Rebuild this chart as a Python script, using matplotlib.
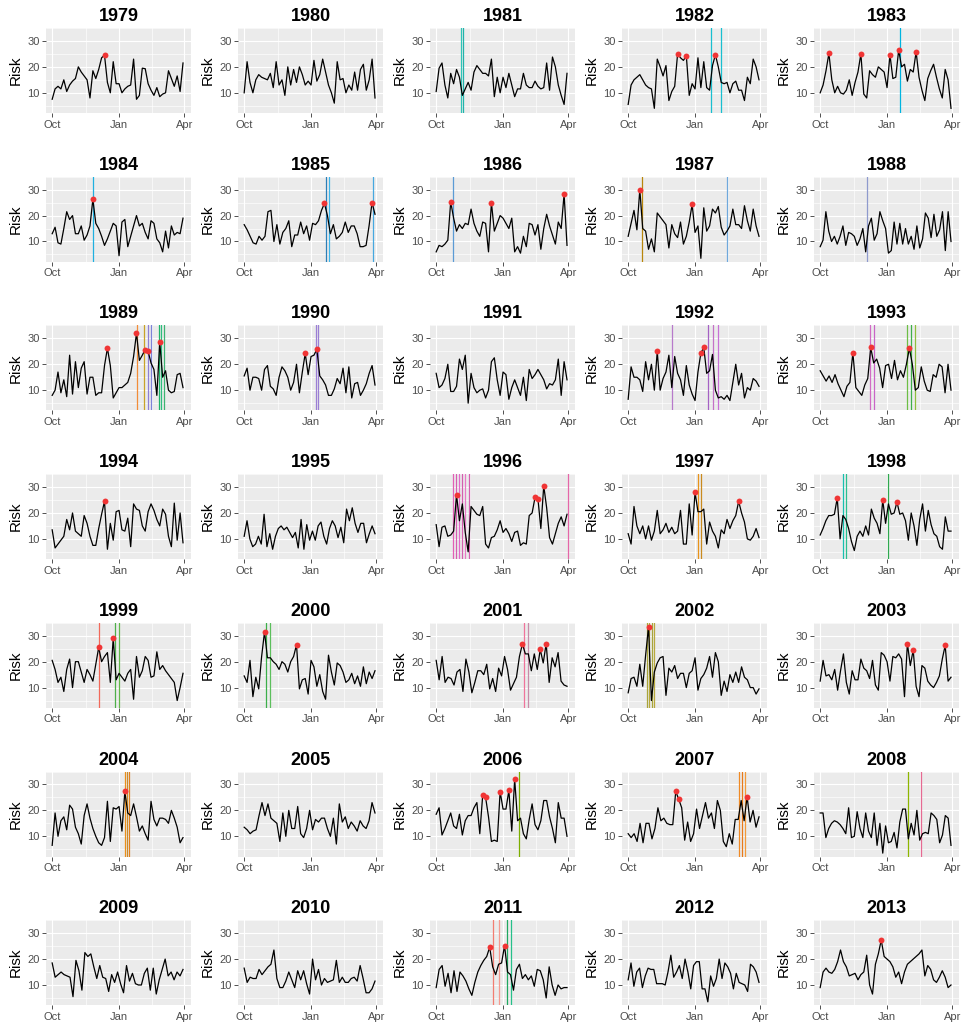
import numpy as np
import matplotlib
matplotlib.use("Agg")
import matplotlib.pyplot as plt

plt.rcParams['font.family'] = ['Liberation Sans', 'DejaVu Sans']

# risk values every ~4 days, Oct -> Apr, one list per season
r1979 = [7.5, 11.5, 12.5, 11.5, 15, 10.5, 13, 14.5, 15.5, 20, 18, 16.5, 15, 8, 18.5, 15.5, 19, 23.5, 24.5, 14, 10, 22, 13.5, 13.5, 10, 11.5, 12.5, 13, 23, 7.5, 9, 19.5, 19.3, 13.5, 11, 9, 12, 8.5, 9.5, 10, 18.5, 15.5, 12.5, 16.5, 10.5, 21.5]
r1980 = [10, 22, 14, 10, 15, 17, 16, 15.5, 15, 17.5, 12, 22, 13, 15, 9, 20, 13, 19, 14, 20, 17, 13, 14.5, 13, 22.5, 14.5, 17, 23, 18, 13, 10, 6, 22, 15, 15.5, 10, 13, 11, 18, 11, 19, 21, 11, 15, 23, 8]
r1981 = [10.5, 19.5, 21.5, 13, 8, 17.5, 13.5, 19, 16, 9, 11.5, 14, 11, 18, 20.5, 19, 17.5, 17.5, 16.5, 23, 8.5, 16, 10, 16, 12, 17.5, 13, 8.5, 11.5, 11.5, 17.5, 13, 12, 12, 14.5, 12.5, 11.5, 12, 21.5, 11, 23.8, 20, 13, 9, 5.5, 17.5]
r1982 = [5.5, 13, 15, 16, 17, 15, 13, 12, 11.5, 4, 23, 20, 16.5, 20.5, 7, 10.5, 12.5, 25, 23.5, 22.5, 24.3, 9, 13.5, 11.5, 23.5, 12, 22, 12, 11, 20.5, 24.7, 20, 14, 13.5, 14, 10, 13.5, 14.5, 11, 11, 7, 16, 13.5, 23, 20, 15]
r1983 = [10, 13, 18.5, 25.2, 15, 10, 12.5, 10, 9.5, 11, 15, 9, 14, 18, 25, 9.5, 8, 18.5, 17, 16, 20, 19, 18, 12, 24.7, 15.5, 16, 26.5, 20, 21, 14.5, 19, 18, 25.8, 16, 11, 7, 15.5, 18.5, 21, 16, 11.5, 8, 19, 15, 4]
r1984 = [13, 15.5, 9.5, 9, 15, 21.5, 18.5, 20, 13, 13, 16, 10.5, 12.5, 16, 26.3, 17, 15, 12, 8.5, 11, 14, 17, 16, 4.5, 17.5, 18.5, 8, 12, 16, 20, 16, 17, 13.5, 11, 18, 17, 11, 9.5, 6, 14, 7.5, 16, 12.5, 13.5, 13, 19]
r1985 = [16.5, 14.5, 12, 9.5, 9, 12, 10.5, 12, 21.5, 22, 10, 16.5, 9, 13.5, 15, 18, 8, 12.5, 12.5, 17.5, 13, 16, 10.5, 17, 16.5, 18, 22, 24.7, 20, 13, 16.5, 11, 12, 13.5, 17.5, 13.5, 16, 16, 13, 8, 8, 8.5, 16, 25, 20.5]
r1986 = [6, 8.5, 8, 9, 10.5, 25.3, 19, 14, 16.5, 15, 17, 16.5, 22.5, 17, 14, 12, 17.5, 17, 6, 25, 14, 17, 20, 19, 17, 15, 19, 6, 8, 5.5, 12, 8, 17, 16.5, 12.5, 16.5, 7, 15, 20.5, 16, 12.5, 9, 17.5, 15, 28.3, 8.5]
r1987 = [12, 17, 22, 14.5, 30, 15, 14, 7, 11, 6, 21, 19.5, 18, 16.5, 7.5, 16.5, 13, 11.5, 17.5, 9, 12, 17.5, 24.3, 13.5, 16, 3.5, 23, 14, 16, 22.5, 21, 23.5, 15.5, 12.5, 14, 16, 22.5, 16.5, 16.5, 15, 23.8, 18, 14, 22.5, 16, 12]
r1988 = [8, 10.5, 21.5, 14, 10, 12, 9, 12, 16, 8.5, 13.5, 13, 12, 8.5, 11, 15, 6, 16, 19, 10.5, 13, 21.5, 18, 15, 5.5, 6.5, 17.5, 9, 17, 9, 15, 9, 12, 7, 16, 7.5, 11, 21, 19, 11.5, 20.5, 12, 14.5, 21.5, 6.5, 21.5, 10]
r1989 = [8, 10, 17, 9, 14, 7.5, 23.5, 8.5, 21, 11, 18.5, 21, 8.5, 15, 15, 8, 9, 9, 19.5, 26.2, 19.5, 7, 9, 11, 11, 12, 13, 16.5, 23, 32, 21.5, 23.5, 25.7, 25, 20.5, 18, 8, 28.5, 15, 17.5, 10, 9, 9.5, 16, 16.5, 11]
r1990 = [15.5, 18.5, 10, 15, 15, 14.5, 10, 18, 19.5, 11.5, 10.5, 8, 15, 19, 17.5, 15, 10, 13, 20, 9, 17, 24.2, 16, 23, 23.5, 25.8, 15.5, 14, 12, 8, 8, 10.5, 14.5, 12.5, 18.5, 9, 19, 7, 12.5, 13, 8, 10, 12.5, 16.5, 19.5, 12]
r1991 = [16.5, 11, 12, 14.5, 20, 9.5, 9.5, 11.5, 22, 18, 23.5, 5, 16.5, 11, 9, 10, 10.5, 7, 10, 21, 22.5, 14, 8, 17, 16, 6.5, 11, 14, 11, 8, 15, 6, 18, 14.5, 16, 18, 16, 14, 10.5, 12.5, 12, 14, 22, 8, 21, 14]
r1992 = [6.5, 19, 15, 15, 14, 9.5, 21, 14, 20, 10, 25, 10, 14.5, 17, 23.5, 11, 23, 16.5, 14, 8, 19.5, 12, 8.5, 6, 17, 24.3, 26.5, 16.5, 17.5, 23.8, 10, 7, 7.5, 6.5, 8, 6, 13, 20, 12, 16.5, 7, 11, 10, 14.5, 13.5, 11.5]
r1993 = [17.5, 15.5, 13.5, 15.5, 13, 16, 12.5, 10, 7.5, 11.5, 13, 24.5, 11, 9.5, 8, 12, 14.5, 26.5, 20.5, 22, 18.5, 11, 19.5, 20, 14.5, 21.5, 14, 17.5, 15, 20, 26.2, 20, 10, 11, 19, 13.5, 10, 9.5, 16, 15, 20, 19, 9, 20, 10]
r1994 = [13.5, 6.5, 8, 9.5, 11, 17.5, 13.5, 20, 13, 12, 11, 19, 16, 11, 7.5, 7.5, 14, 19.5, 24.5, 6, 16, 9.5, 20.5, 21, 13.5, 13, 18, 7, 23.5, 21.5, 21, 15, 13, 20.5, 23.5, 21, 17.5, 15, 21.5, 19.5, 11, 7, 23.8, 9.5, 20, 8.5]
r1995 = [11, 17, 10, 7, 8, 11, 8, 19.5, 7, 12, 6, 11, 14, 15, 13.5, 14.5, 12.5, 10.5, 12.5, 6.5, 17.5, 6, 15.5, 9.5, 13, 9.5, 15, 16.5, 11, 8, 14, 17, 15, 10.5, 14.5, 8.5, 21.5, 17, 22, 16, 12.5, 16, 16, 8.5, 12, 15, 12]
r1996 = [15.5, 7, 14.5, 15, 11, 11.5, 13, 27, 17, 23.5, 12.5, 5, 22.5, 21, 19.5, 19, 22.5, 8, 6.5, 10.5, 11, 13.5, 17, 12.5, 14, 12, 9, 12.5, 13, 7.5, 8.5, 8, 19, 20, 26, 25.5, 14, 30.5, 22, 10.5, 8, 12, 16, 18.5, 15, 19.5]
r1997 = [12, 8, 22.5, 15, 12, 15, 10, 15, 9.5, 13, 21, 12, 13.5, 16, 12.5, 14.5, 12, 13, 21, 8, 8, 23.5, 11.5, 28, 20.5, 20.5, 21.5, 8, 16.5, 13, 11, 6.5, 13.5, 12, 17.5, 14, 17, 19, 24.5, 20, 16.5, 10, 9.5, 11, 14, 10.5]
r1998 = [11.5, 14, 17, 19, 19, 19.5, 25.8, 10, 19, 17.5, 14, 9, 5.5, 11, 13, 11, 15, 11.5, 21.5, 18, 16, 12, 25, 16, 23.5, 19.5, 20, 24.2, 19.5, 20, 17, 9.5, 20, 15, 7.5, 17.5, 23.5, 13, 21, 15.5, 12, 11, 7, 6, 18.5, 13, 13]
r1999 = [20.5, 17, 12, 14, 8.5, 17, 21, 10, 20, 20, 16, 12, 17, 15, 12.5, 19, 25.5, 20, 22, 23.5, 12, 29, 13, 15.5, 14, 12.5, 15.5, 17, 5.5, 22, 14, 16.5, 22, 20.5, 14, 14.5, 23.8, 17, 18.5, 16.5, 15, 13.5, 12, 5, 10, 15.5]
r2000 = [14.5, 12, 20.5, 6.5, 14, 9.5, 22, 31.5, 21.5, 21.5, 20, 19, 17, 20, 19, 16, 20, 22, 26.5, 9.5, 13, 13.5, 7.5, 20.5, 18, 10.5, 15, 8.5, 5.5, 22.5, 16, 11, 19.5, 18.5, 16, 12, 13, 15.5, 11.5, 14.5, 10.5, 18, 11.5, 16, 13.5, 16.5]
r2001 = [20.5, 13, 22, 12, 14, 13.5, 11, 16, 17, 8.5, 21, 16, 8, 12, 16.5, 16.5, 15, 19, 9.5, 13.5, 8.5, 17.5, 14.5, 22, 17, 9, 11.5, 14, 22, 26.8, 23, 23, 16.5, 23, 17, 24.7, 19.5, 27, 12, 21.5, 18, 23.5, 12.5, 11, 10.5]
r2002 = [8, 13.5, 14, 10.5, 19, 10.5, 22.5, 33.5, 5, 16, 19.5, 21.5, 22, 7, 17.5, 16, 18.5, 13.5, 15.5, 15.5, 10, 15.5, 16.5, 21.5, 9, 13.5, 15, 17.5, 22, 14, 23.5, 20, 7, 12.5, 8.5, 15, 12, 16, 12, 18, 14, 13, 10, 10, 7.5, 9.5]
r2003 = [12.5, 20.5, 14.5, 15, 13, 17, 9, 16.5, 23, 12, 7.5, 16.5, 13, 13, 21, 17.5, 16.5, 13.5, 20.5, 11, 9, 23.5, 22.5, 20, 12.5, 22, 21.5, 23, 21, 6.5, 27, 18.5, 24.5, 10.5, 6.5, 18.5, 17.5, 12.5, 11, 10, 12, 14.5, 21, 26.3, 12.5, 14]
r2004 = [6.5, 19, 10, 16, 17.5, 12.5, 22, 20.5, 13.5, 11, 7, 18, 22.5, 17, 13, 10, 7.5, 6.5, 9.5, 23.5, 8, 21, 20.5, 21.5, 12, 27.3, 19, 18, 22.5, 17.5, 12, 14, 11, 8.5, 23.5, 16.5, 14, 17, 17, 16.5, 15, 20, 17, 13.5, 7.5, 9.5]
r2005 = [13.5, 12.5, 11, 12, 12.5, 18, 23, 18, 22.5, 17, 16, 15, 8, 19, 10, 20, 13, 13, 21.5, 11, 9.5, 13, 20, 12.5, 16.5, 15.5, 17, 17, 13, 10, 17, 7, 22.5, 15.5, 17.5, 13, 15.5, 14, 12, 16, 14, 13, 16, 23, 19]
r2006 = [18.5, 21, 10.5, 13, 16, 19, 14, 13, 18.5, 10.5, 16, 18, 18, 21, 23, 11, 25.8, 25, 17.5, 8, 8.5, 8, 27.2, 20.5, 20.5, 27.7, 12, 32, 16, 17, 11, 9, 16.5, 22.5, 14.5, 12.5, 16, 23.8, 23.8, 17.5, 13, 7.5, 23, 17, 17, 10]
r2007 = [11, 9.5, 11, 8, 15, 7.5, 15, 15, 9, 13, 21, 16, 17, 15, 14.5, 14.5, 27.3, 24.3, 21, 8.5, 15.5, 8, 11, 20.5, 13, 18, 23, 17, 19, 13, 23.8, 20, 8, 6, 11, 7, 16.5, 16.5, 23.8, 16, 25.3, 15.5, 20, 13.5, 17.5]
r2008 = [19, 19, 9.5, 13, 15, 16, 15.5, 14.5, 13, 11, 21, 9.5, 10, 19.5, 13, 9.5, 19, 12, 9.5, 19, 6.5, 15, 3.5, 14, 7.5, 8, 11.5, 5.5, 15.5, 20.5, 20.5, 9, 15, 10.5, 20, 8.5, 11, 11.5, 11, 19, 18, 16.5, 7.5, 10.5, 18, 17, 6.5]
r2009 = [18.5, 13, 14, 15, 14, 13.5, 13, 5.5, 19.5, 15.5, 8, 22.5, 21, 22, 17, 12.5, 17.5, 13, 12.5, 7.5, 14, 11, 15, 10.5, 7, 17.5, 11.5, 14.5, 10.5, 10, 10, 14.5, 16.5, 8, 16.5, 6.5, 12, 16, 20, 13.5, 15, 12, 15, 13.5, 16]
r2010 = [16.5, 11, 13, 12.5, 12.5, 16, 14, 15.5, 17, 18, 23.5, 12.5, 9, 9, 11.5, 15, 12, 9, 15.5, 12, 15.5, 10.5, 6.5, 20, 12, 16, 10, 12.5, 11, 11.5, 12, 19.5, 11, 13, 11, 11, 12.5, 13, 11.5, 17.5, 12.5, 7, 7, 8.5, 11.5]
r2011 = [9, 16, 17.5, 9.5, 14.5, 7, 15.5, 7.5, 15, 13.5, 11.5, 8.5, 6, 11, 15, 17.5, 19.5, 21, 24.6, 17, 14, 18, 18.5, 25.2, 15, 14, 8, 16, 18, 12.5, 14, 12, 13.5, 9.5, 16, 15.5, 12, 5, 17, 10, 6, 10, 8.5, 9, 9]
r2012 = [12, 18.5, 9.5, 15, 16.5, 9, 13.5, 16.5, 16, 16, 10.5, 10.5, 10.5, 10, 15, 21.5, 13, 15, 17.5, 12.5, 20, 15, 8.5, 17.5, 19, 19, 8.5, 8.5, 3.5, 13.5, 9.5, 12.5, 20, 12.5, 18.5, 17, 14.5, 8.5, 14.5, 11, 10.5, 10, 7.5, 18, 17, 15, 11]
r2013 = [9, 15, 16.5, 15, 14.5, 16, 19, 23.5, 19, 17, 13.5, 14, 14.5, 12, 14, 15, 21.5, 10, 6.5, 18, 22, 27.3, 21, 20, 19, 17, 13, 15, 10.5, 15, 18, 19, 20, 21, 22, 23.5, 13.5, 17.5, 16, 12, 11, 13, 15.5, 13, 9, 10]

years = list(range(1979, 2014))
series = [r1979, r1980, r1981, r1982, r1983, r1984, r1985, r1986, r1987, r1988,
          r1989, r1990, r1991, r1992, r1993, r1994, r1995, r1996, r1997, r1998,
          r1999, r2000, r2001, r2002, r2003, r2004, r2005, r2006, r2007, r2008,
          r2009, r2010, r2011, r2012, r2013]
threshold = 24

# event dates (days after 1 Oct) and their colours
event_days = {
    1981: [34.5, 37], 1982: [113.6, 128], 1983: [110], 1984: [55.7],
    1985: [113, 116.4, 177.6], 1986: [23.3], 1987: [19.3, 136.5], 1988: [63.8],
    1989: [117, 127, 132, 135.8, 147.5, 150, 153.5], 1990: [98.6, 102],
    1992: [60, 109.4, 117, 123.8], 1993: [69, 74, 120, 125, 130],
    1996: [23.3, 27.6, 31.7, 35.9, 40, 44.5, 181.3], 1997: [96.5, 100],
    1998: [31.7, 35, 92.8], 1999: [65, 86.3, 91.4], 2000: [30.6, 34.9],
    2001: [121, 127], 2002: [25.3, 28.7, 32.1, 35.5], 2004: [100.7, 103.4, 105.9],
    2006: [113.4], 2007: [152.7, 157, 160.4], 2008: [120.8, 138.6],
    2011: [78.5, 86.9, 97.2, 102.3],
}
event_cols = {
    1981: ['#2EC4B6', '#20B2AA'], 1982: ['#19BFD0', '#19BFD0'], 1983: ['#00B4E0'],
    1984: ['#1FB0E0'], 1985: ['#2C7FB8', '#3DB5EA', '#46A8E0'], 1986: ['#5B9BD5'],
    1987: ['#B8860B', '#6FA8DC'], 1988: ['#8E9ACD'],
    1989: ['#F28C38', '#C9A227', '#8F7FD4', '#7C83D8', '#1DB36B', '#2EBD7E', '#3CB371'],
    1990: ['#9B7FD4', '#9B7FD4'], 1992: ['#B77ACB', '#A561C4', '#C471C7', '#C871D6'],
    1993: ['#D16BC4', '#C964C6', '#6DBE45', '#3FAF4A', '#8DBF3D'],
    1996: ['#E25FB6', '#D65DB1', '#E26AC9', '#D35FAE', '#E879C6', '#D45FB0', '#E566A8'],
    1997: ['#E8931A', '#C98A1E'], 1998: ['#17BFB0', '#2BBF8F', '#2FA84F'],
    1999: ['#F2695A', '#4DAF4A', '#62B84A'], 2000: ['#3BAF49', '#5CBF5C'],
    2001: ['#F0739B', '#C78BA8'], 2002: ['#A8A43A', '#B7A83C', '#A8A43A', '#B7A83C'],
    2004: ['#E88E1A', '#CC8A2A', '#E07F1C'], 2006: ['#7CAE00'],
    2007: ['#F08A24', '#E87A1A', '#F29A3A'], 2008: ['#8DB600', '#E66A92'],
    2011: ['#F27D72', '#F59A8F', '#1FA860', '#26C08A'],
}

W, H = 961, 1026
fig = plt.figure(figsize=(W / 100, H / 100), dpi=100)

for i, (yr, vals) in enumerate(zip(years, series)):
    row, col = i // 5, i % 5
    ax = fig.add_axes([(46 + 192 * col) / W, 1 - (28 + 148.7 * row + 85) / H, 145 / W, 85 / H])
    ax.set_facecolor('#EBEBEB')
    for s in ax.spines.values():
        s.set_visible(False)
    vals = np.array(vals)
    days = np.linspace(0, 180, len(vals))
    for d, c in zip(event_days.get(yr, []), event_cols.get(yr, [])):
        ax.axvline(d, color=c, lw=0.9, zorder=2)
    ax.plot(days, vals, color='black', lw=0.9, zorder=3)
    hi = vals > threshold
    ax.scatter(days[hi], vals[hi], s=18, color='#F03535', zorder=4, linewidths=0)

    ax.set_xlim(-8.5, 191)
    ax.set_ylim(2.2, 35)
    ax.set_xticks([0, 92, 182])
    ax.set_xticklabels(['Oct', 'Jan', 'Apr'])
    ax.set_xticks([46, 137], minor=True)
    ax.set_yticks([10, 20, 30])
    ax.set_yticks([5, 15, 25, 35], minor=True)
    ax.grid(which='major', color='white', lw=0.85)
    ax.grid(which='minor', color='white', lw=0.45)
    ax.set_axisbelow(True)
    ax.tick_params(which='major', length=2.7, width=0.6, color='#333333',
                   labelcolor='#4D4D4D', labelsize=8, pad=2)
    ax.tick_params(which='minor', length=0)
    ax.set_title(str(yr), fontsize=13, fontweight='bold', pad=5)
    ax.set_ylabel('Risk', fontsize=11, labelpad=3)

fig.savefig('out.png', dpi=100, facecolor='white')
